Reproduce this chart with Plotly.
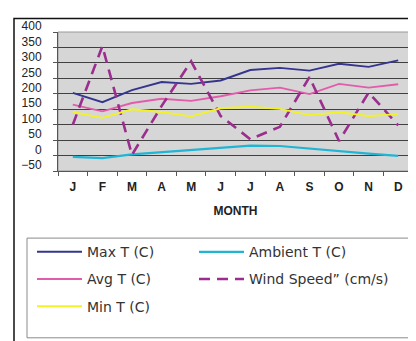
import plotly.graph_objects as go

month_keys = ["Jan", "Feb", "Mar", "Apr", "May", "Jun", "Jul", "Aug", "Sep", "Oct", "Nov", "Dec"]
month_labels = ["J", "F", "M", "A", "M", "J", "J", "A", "S", "O", "N", "D"]

max_t = [203, 173, 212, 238, 232, 243, 277, 284, 275, 297, 287, 308]
avg_t = [165, 143, 170, 184, 177, 192, 211, 220, 199, 232, 220, 231]
min_t = [141, 122, 150, 141, 127, 153, 158, 151, 131, 140, 128, 134]
ambient_t = [-4, -8, 4, 11, 17, 24, 32, 31, 22, 13, 6, -1]
wind_speed = [100, 354, 2, 160, 305, 128, 53, 93, 254, 47, 204, 98]

y_ticks = [-50, 0, 50, 100, 150, 200, 250, 300, 350, 400]

W, H = 416, 341
L, R, T, B = 50, 11, 18, 178
PW, PH = W - L - R, H - T - B


def px(x):
    return (x - L) / PW


def py(y):
    return (H - B - y) / PH


fig = go.Figure()

series = [
    ("Max T (C)", max_t, "#35358f", None, "legend", 1.9),
    ("Ambient T (C)", ambient_t, "#1fb5d3", None, "legend2", 2.2),
    ("Avg T (C)", avg_t, "#e35cab", None, "legend", 1.9),
    ("Wind Speed\u201d (cm/s)", wind_speed, "#9a2d8e", "11px,7px", "legend2", 2.6),
    ("Min T (C)", min_t, "#f2f226", None, "legend", 1.9),
]

for i, (name, vals, color, dash, leg, w) in enumerate(series):
    fig.add_trace(go.Scatter(
        x=month_keys, y=vals, name=name, mode="lines",
        line=dict(color=color, width=w, dash=dash or "solid"),
        legend=leg, legendgroup=f"g{i}",
    ))

fig.update_layout(
    width=W, height=H, autosize=False,
    margin=dict(l=L, r=R, t=T, b=B),
    paper_bgcolor="white",
    plot_bgcolor="#d6d6d6",
    font=dict(family="Arial, Liberation Sans, sans-serif", color="#222222"),
    xaxis=dict(
        type="category", tickmode="array", tickvals=month_keys, ticktext=month_labels,
        tickson="boundaries", ticks="outside", ticklen=4, tickcolor="#555555",
        showgrid=False, showline=True, linecolor="#555555", linewidth=1,
        range=[-0.5, 11.5], ticklabelstandoff=5,
        tickfont=dict(family="Arial, Liberation Sans, sans-serif", size=12, color="#222222", weight="bold"),
        title=dict(text="MONTH", standoff=13,
                   font=dict(family="Arial, Liberation Sans, sans-serif", size=12, color="#222222", weight="bold")),
    ),
    yaxis=dict(
        range=[-50, 400], tickmode="array", tickvals=y_ticks,
        ticks="outside", ticklen=4, tickcolor="#555555",
        showgrid=True, gridcolor="#404040", gridwidth=1.3,
        zeroline=True, zerolinecolor="#404040", zerolinewidth=1.3,
        showline=True, linecolor="#555555", linewidth=1,
        ticklabelstandoff=9, ticklabelshift=-6,
        tickfont=dict(family="Arial, Liberation Sans, sans-serif", size=12, color="#222222"),
    ),
    legend=dict(
        x=px(24), y=py(231), xanchor="left", yanchor="top", orientation="v",
        bgcolor="rgba(0,0,0,0)", tracegroupgap=6, itemwidth=45,
        font=dict(family="DejaVu Sans", size=14, color="#333333"),
    ),
    legend2=dict(
        x=px(186), y=py(231), xanchor="left", yanchor="top", orientation="v",
        bgcolor="rgba(0,0,0,0)", tracegroupgap=6, itemwidth=45,
        font=dict(family="DejaVu Sans", size=14, color="#333333"),
    ),
    shapes=[
        dict(type="rect", xref="paper", yref="paper", x0=0, x1=1, y0=0, y1=1,
             line=dict(color="#9a9a9a", width=1), layer="below"),
        dict(type="rect", xref="paper", yref="paper", x0=px(19), x1=px(409), y0=py(337), y1=py(233),
             line=dict(color="#8a8a8a", width=1)),
        dict(type="rect", xref="paper", yref="paper", x0=px(6), x1=px(425), y0=py(350), y1=py(4),
             line=dict(color="#111111", width=1.5)),
    ],
)

fig.write_html("out.html")
